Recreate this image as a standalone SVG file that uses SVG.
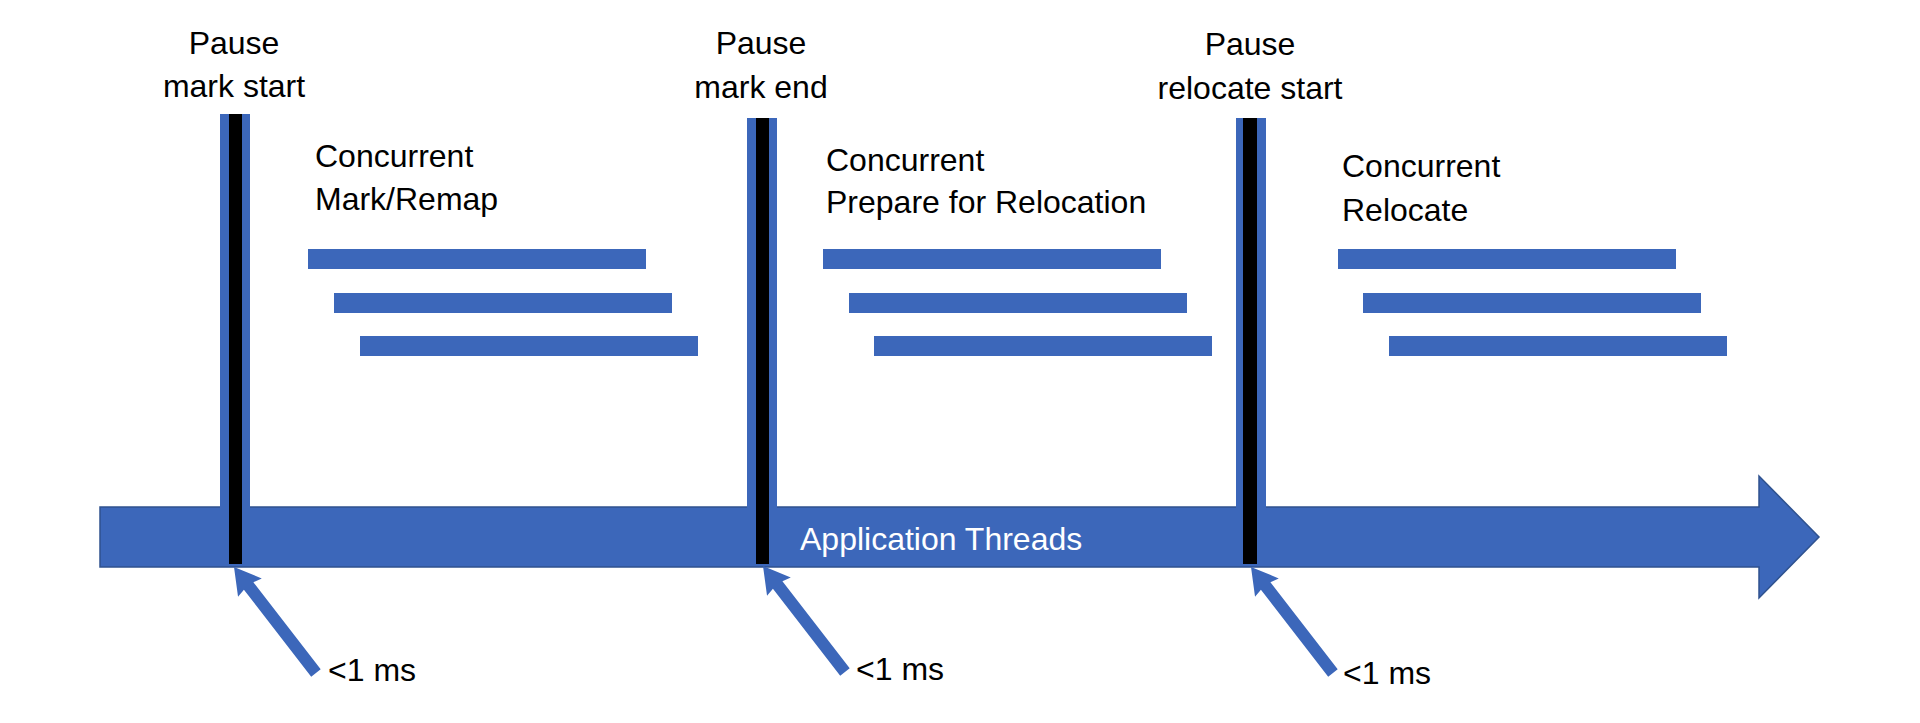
<svg xmlns="http://www.w3.org/2000/svg" width="1920" height="723" viewBox="0 0 1920 723">
<style>
.t{font-family:"Liberation Sans",Arial,sans-serif;font-size:32px;fill:#000}
.c{text-anchor:middle}
.w{fill:#fff}
.blue{fill:#3C67BA}
.blk{fill:#000}
</style>
<defs>
<path id="ptr" d="M0,0 L26,15 L24,6 L134,6 L134,-6 L24,-6 L26,-15 Z" fill="#3C67BA"/>
</defs>
<rect width="1920" height="723" fill="#fff"/>
<g id="timeline">
<polygon points="100,507 1759,507 1759,476 1819,537 1759,598 1759,567 100,567" fill="#3C67BA" stroke="#2F528F" stroke-width="1.5"/>
<text class="t w" x="800" y="550">Application Threads</text>
</g>
<g id="pause1">
<rect class="blue" x="220" y="114" width="30" height="394"/>
<rect class="blk" x="229" y="114" width="13" height="450"/>
<text class="t c" x="234" y="54">Pause</text>
<text class="t c" x="234" y="97">mark start</text>
</g>
<g id="pause2">
<rect class="blue" x="747" y="118" width="30" height="390"/>
<rect class="blk" x="756" y="118" width="13" height="446"/>
<text class="t c" x="761" y="54">Pause</text>
<text class="t c" x="761" y="98">mark end</text>
</g>
<g id="pause3">
<rect class="blue" x="1236" y="118" width="30" height="390"/>
<rect class="blk" x="1243" y="118" width="14" height="446"/>
<text class="t c" x="1250" y="55">Pause</text>
<text class="t c" x="1250" y="99">relocate start</text>
</g>
<g id="concurrent1">
<text class="t" x="315" y="167">Concurrent</text>
<text class="t" x="315" y="210">Mark/Remap</text>
<rect class="blue" x="308" y="249" width="338" height="20"/>
<rect class="blue" x="334" y="293" width="338" height="20"/>
<rect class="blue" x="360" y="336" width="338" height="20"/>
</g>
<g id="concurrent2">
<text class="t" x="826" y="171">Concurrent</text>
<text class="t" x="826" y="213">Prepare for Relocation</text>
<rect class="blue" x="823" y="249" width="338" height="20"/>
<rect class="blue" x="849" y="293" width="338" height="20"/>
<rect class="blue" x="874" y="336" width="338" height="20"/>
</g>
<g id="concurrent3">
<text class="t" x="1342" y="177">Concurrent</text>
<text class="t" x="1342" y="221">Relocate</text>
<rect class="blue" x="1338" y="249" width="338" height="20"/>
<rect class="blue" x="1363" y="293" width="338" height="20"/>
<rect class="blue" x="1389" y="336" width="338" height="20"/>
</g>
<g id="connectors">
<use href="#ptr" transform="translate(234,567) rotate(52.3)"/>
<use href="#ptr" transform="translate(763,566) rotate(52.3)"/>
<use href="#ptr" transform="translate(1251,567) rotate(52.3)"/>
</g>
<g id="labels">
<text class="t" x="328" y="681">&lt;1 ms</text>
<text class="t" x="856" y="680">&lt;1 ms</text>
<text class="t" x="1343" y="684">&lt;1 ms</text>
</g>
</svg>
